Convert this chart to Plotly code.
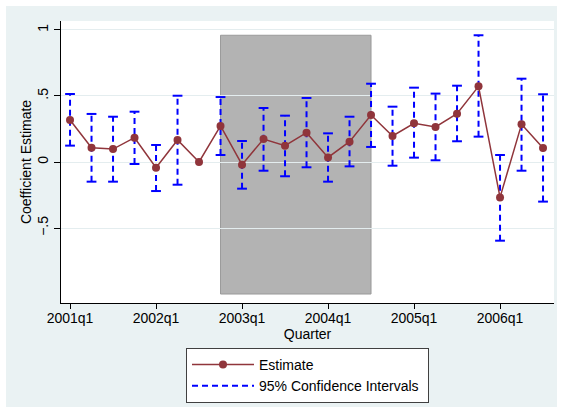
import plotly.graph_objects as go

# Quarterly coefficient estimates with 95% confidence bounds
quarters = ["2001q1", "2001q2", "2001q3", "2001q4",
            "2002q1", "2002q2", "2002q3", "2002q4",
            "2003q1", "2003q2", "2003q3", "2003q4",
            "2004q1", "2004q2", "2004q3", "2004q4",
            "2005q1", "2005q2", "2005q3", "2005q4",
            "2006q1", "2006q2", "2006q3"]
estimate = [0.318, 0.108, 0.098, 0.184, -0.043, 0.167, 0.0, 0.273,
            -0.020, 0.174, 0.124, 0.222, 0.035, 0.154, 0.356, 0.197,
            0.293, 0.265, 0.366, 0.573, -0.268, 0.285, 0.106]
ci_upper = [0.515, 0.364, 0.343, 0.381, 0.129, 0.502, None, 0.492,
            0.159, 0.409, 0.351, 0.485, 0.217, 0.343, 0.593, 0.419,
            0.563, 0.518, 0.578, 0.960, 0.053, 0.631, 0.513]
ci_lower = [0.124, -0.149, -0.149, -0.015, -0.220, -0.172, None, 0.053,
            -0.202, -0.066, -0.108, -0.040, -0.149, -0.033, 0.114, -0.028,
            0.033, 0.013, 0.157, 0.192, -0.596, -0.066, -0.300]

x_ticks = ["2001q1", "2002q1", "2003q1", "2004q1", "2005q1", "2006q1"]
y_ticks = [1, 0.5, 0, -0.5]
y_tick_text = ["1", ".5", "0", "\u2212.5"]

# Shaded period
shade_start, shade_end = "2002q4", "2004q3"
shade_low, shade_high = -1.0, 0.96

ESTIMATE_COLOR = "#90353B"
CI_COLOR = "#0000FF"
BG = "#EAF2F3"
FONT = "Liberation Sans, Arial, sans-serif"

# CI whiskers as separated segments
seg_x, seg_y, cap_x, cap_y = [], [], [], []
for q, lo, hi in zip(quarters, ci_lower, ci_upper):
    if lo is None or hi is None:
        continue
    seg_x += [q, q, None]
    seg_y += [lo, hi, None]
    cap_x += [q, q]
    cap_y += [lo, hi]

fig = go.Figure()

fig.add_trace(go.Scatter(
    x=seg_x, y=seg_y, mode="lines", name="95% Confidence Intervals\u00a0",
    line=dict(color=CI_COLOR, width=2, dash="6px,4px"),
    legendrank=2, hoverinfo="skip"))
fig.add_trace(go.Scatter(
    x=cap_x, y=cap_y, mode="markers", showlegend=False,
    marker=dict(symbol="line-ew", size=7, color=CI_COLOR,
                line=dict(color=CI_COLOR, width=2)),
    hoverinfo="skip"))
fig.add_trace(go.Scatter(
    x=quarters, y=estimate, mode="lines+markers", name="Estimate",
    line=dict(color=ESTIMATE_COLOR, width=1.5),
    marker=dict(color=ESTIMATE_COLOR, size=8),
    legendrank=1))

i0 = quarters.index(shade_start)
i1 = quarters.index(shade_end)
fig.add_shape(type="rect", xref="x", yref="y", x0=i0, x1=i1,
              y0=shade_low, y1=shade_high, layer="below",
              fillcolor="#B3B3B3", line=dict(color="#9A9A9A", width=1))

# White frame around the graph region
W, H = 563, 413
L, R, T, B = 61, 9, 21, 110
pw, ph = W - L - R, H - T - B
def px_x(v):
    return (v - L) / pw
def px_y(v):
    return (H - B - v) / ph
edge = 6
for x0, x1, y0, y1 in [(0, W, 0, edge), (0, W, H - edge, H),
                       (0, edge, 0, H), (W - edge, W, 0, H)]:
    fig.add_shape(type="rect", xref="paper", yref="paper",
                  x0=px_x(x0), x1=px_x(x1), y0=px_y(y1), y1=px_y(y0),
                  fillcolor="white", line=dict(width=0), layer="below")

fig.update_layout(
    width=W, height=H,
    margin=dict(l=L, r=R, t=T, b=B, pad=0),
    paper_bgcolor=BG, plot_bgcolor="white",
    font=dict(family=FONT, size=14, color="black"),
    showlegend=True,
    legend=dict(x=0.5, xanchor="center", y=px_y(348), yanchor="top",
                bgcolor="white", bordercolor="#404040", borderwidth=1,
                font=dict(size=14), tracegroupgap=0, itemwidth=62),
    xaxis=dict(
        type="category", categoryorder="array", categoryarray=quarters,
        range=[-0.42, 22.51], tickvals=x_ticks, ticktext=x_ticks,
        showgrid=False, zeroline=False,
        showline=True, linecolor="black", linewidth=1,
        ticks="outside", ticklen=5, tickcolor="black",
        ticklabelstandoff=-3,
        title=dict(text="Quarter", standoff=0, font=dict(size=14))),
    yaxis=dict(
        range=[-1.068, 1.068], tickvals=y_ticks, ticktext=y_tick_text,
        tickangle=-90, showgrid=True, gridcolor="#E4EDEF", gridwidth=1,
        zeroline=False, showline=True, linecolor="black", linewidth=1,
        ticks="outside", ticklen=6, tickcolor="black",
        title=dict(text="Coefficient Estimate", standoff=0,
                   font=dict(size=14))),
)

fig.write_html("out.html")
